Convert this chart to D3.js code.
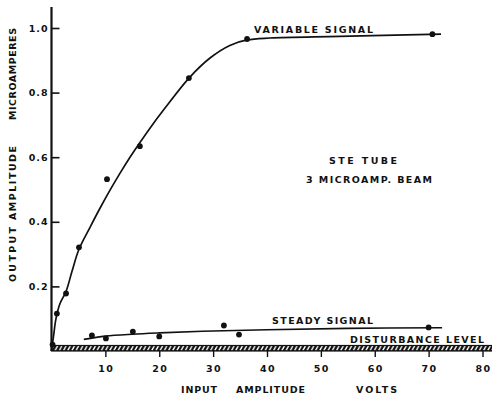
<!DOCTYPE html>
<html>
<head>
<meta charset="utf-8">
<script src="https://cdn.jsdelivr.net/npm/d3@7"></script>
<style>
  html, body { margin: 0; padding: 0; background: #fff; }
  svg { display: block; }
  text { font-family: "DejaVu Sans", sans-serif; font-weight: bold; fill: #111; }
</style>
</head>
<body>
<svg id="chart" width="492" height="396"></svg>
<script>
// Measured points: variable signal (input volts, output microamperes)
const variableX = [0.2, 1.0, 2.7, 5.1, 10.3, 16.4, 25.5, 36.3, 70.7];
const variableY = [0.02, 0.116, 0.178, 0.321, 0.532, 0.634, 0.845, 0.966, 0.981];
// Faired curve drawn through the variable-signal points
const variableCurveX = [0, 0.37, 0.84, 1.58, 2.69, 3.81, 5.1, 7.15, 9.0, 10.86, 12.7, 14.57, 16.06, 18.28, 21.07, 25.52, 29.42, 33.1, 36.29, 40.56, 53.5, 72.3];
const variableCurveY = [0, 0.045, 0.101, 0.147, 0.184, 0.247, 0.315, 0.383, 0.442, 0.498, 0.55, 0.6, 0.637, 0.69, 0.752, 0.845, 0.907, 0.946, 0.963, 0.969, 0.974, 0.981];

// Measured points: steady signal
const steadyX = [7.5, 10.1, 15.1, 20, 32, 34.8, 70];
const steadyY = [0.048, 0.039, 0.06, 0.045, 0.079, 0.051, 0.073];
const steadyCurveX = [6, 10, 15, 20, 28, 40, 55, 72.5];
const steadyCurveY = [0.036, 0.046, 0.052, 0.056, 0.061, 0.066, 0.07, 0.072];

// Disturbance level band
const disturbanceLevel = 0.017;
const disturbanceEndX = 82;

const xTicks = [10, 20, 30, 40, 50, 60, 70, 80];
const yTicks = [0.2, 0.4, 0.6, 0.8, 1.0];
const yTickLabels = ["0.2", "0.4", "0.6", "0.8", "1.0"];

const svg = d3.select("#chart");
const x = d3.scaleLinear().domain([0, 80]).range([51.5, 482.5]);
const y = d3.scaleLinear().domain([0, 1]).range([351, 28]);

// hatch pattern for the disturbance band
const defs = svg.append("defs");
const pat = defs.append("pattern")
  .attr("id", "hatch").attr("patternUnits", "userSpaceOnUse")
  .attr("width", 4.2).attr("height", 8);
pat.append("rect").attr("width", 4.2).attr("height", 8).attr("fill", "#111");
pat.append("line").attr("x1", 0.6).attr("y1", 6.4).attr("x2", 3.2).attr("y2", 1.6)
  .attr("stroke", "#fff").attr("stroke-width", 1.3);

// disturbance band
svg.append("rect")
  .attr("x", x(0)).attr("y", y(disturbanceLevel))
  .attr("width", x(disturbanceEndX) - x(0))
  .attr("height", y(0) - y(disturbanceLevel))
  .attr("fill", "url(#hatch)")
  .attr("stroke", "#111").attr("stroke-width", 1.2);

// y axis (ticks inside)
const yAxis = d3.axisRight(y).tickValues(yTicks).tickSize(8).tickFormat("");
const gy = svg.append("g").attr("transform", `translate(${x(0)},0)`).call(yAxis);
gy.select(".domain").remove();
gy.selectAll(".tick line").attr("stroke", "#111").attr("stroke-width", 1.6);
svg.append("line")
  .attr("x1", x(0)).attr("x2", x(0))
  .attr("y1", y(1.065)).attr("y2", y(0))
  .attr("stroke", "#111").attr("stroke-width", 2.2);

svg.append("g").selectAll("text").data(yTicks).join("text")
  .attr("x", 48.5).attr("y", d => y(d) + 3.6)
  .attr("text-anchor", "end")
  .style("font-size", "9.5px").style("letter-spacing", "1px")
  .text((d, i) => yTickLabels[i]);

// x axis (ticks below the band)
const xAxis = d3.axisBottom(x).tickValues(xTicks).tickSize(6).tickFormat("");
const gx = svg.append("g").attr("transform", `translate(0,${y(0)})`).call(xAxis);
gx.select(".domain").remove();
gx.selectAll(".tick line").attr("stroke", "#111").attr("stroke-width", 1.4);

svg.append("g").selectAll("text").data(xTicks).join("text")
  .attr("x", d => x(d) + 1).attr("y", 372)
  .attr("text-anchor", "middle")
  .style("font-size", "9.5px").style("letter-spacing", "1.5px")
  .text(d => d);

// curves
const line = d3.line().x(d => x(d[0])).y(d => y(d[1])).curve(d3.curveCatmullRom.alpha(0.5));
svg.append("path")
  .datum(variableCurveX.map((v, i) => [v, variableCurveY[i]]))
  .attr("d", line).attr("fill", "none").attr("stroke", "#111").attr("stroke-width", 1.7);
svg.append("path")
  .datum(steadyCurveX.map((v, i) => [v, steadyCurveY[i]]))
  .attr("d", line).attr("fill", "none").attr("stroke", "#111").attr("stroke-width", 1.6);

// points
svg.append("g").selectAll("circle").data(variableX.map((v, i) => [v, variableY[i]])).join("circle")
  .attr("cx", d => x(d[0])).attr("cy", d => y(d[1])).attr("r", 2.9).attr("fill", "#111");
svg.append("g").selectAll("circle").data(steadyX.map((v, i) => [v, steadyY[i]])).join("circle")
  .attr("cx", d => x(d[0])).attr("cy", d => y(d[1])).attr("r", 2.9).attr("fill", "#111");

// labels
function label(txt, x0, x1, baseline, size, rotate) {
  const t = svg.append("text")
    .attr("textLength", x1 - x0).attr("lengthAdjust", "spacing")
    .style("font-size", size + "px")
    .text(txt);
  if (rotate) {
    t.attr("transform", `translate(${baseline},${x1}) rotate(-90)`).attr("x", 0).attr("y", 0);
  } else {
    t.attr("x", x0).attr("y", baseline);
  }
  return t;
}
label("VARIABLE  SIGNAL", 254, 373, 33, 9.5);
label("STEADY  SIGNAL", 272, 373, 324, 9.5);
label("DISTURBANCE  LEVEL", 350, 484, 343, 9.5);
label("STE  TUBE", 329, 397, 164, 9.5);
label("3  MICROAMP.  BEAM", 306, 432, 183, 9.5);
label("INPUT", 181, 217, 393, 9.5);
label("AMPLITUDE", 236, 305, 393, 9.5);
label("VOLTS", 356, 397, 393, 9.5);
// vertical axis title, read bottom to top
label("OUTPUT", 227, 282, 16, 9.5, true);
label("AMPLITUDE", 146, 220, 16, 9.5, true);
label("MICROAMPERES", 28, 120, 16, 9.5, true);
</script>
</body>
</html>
